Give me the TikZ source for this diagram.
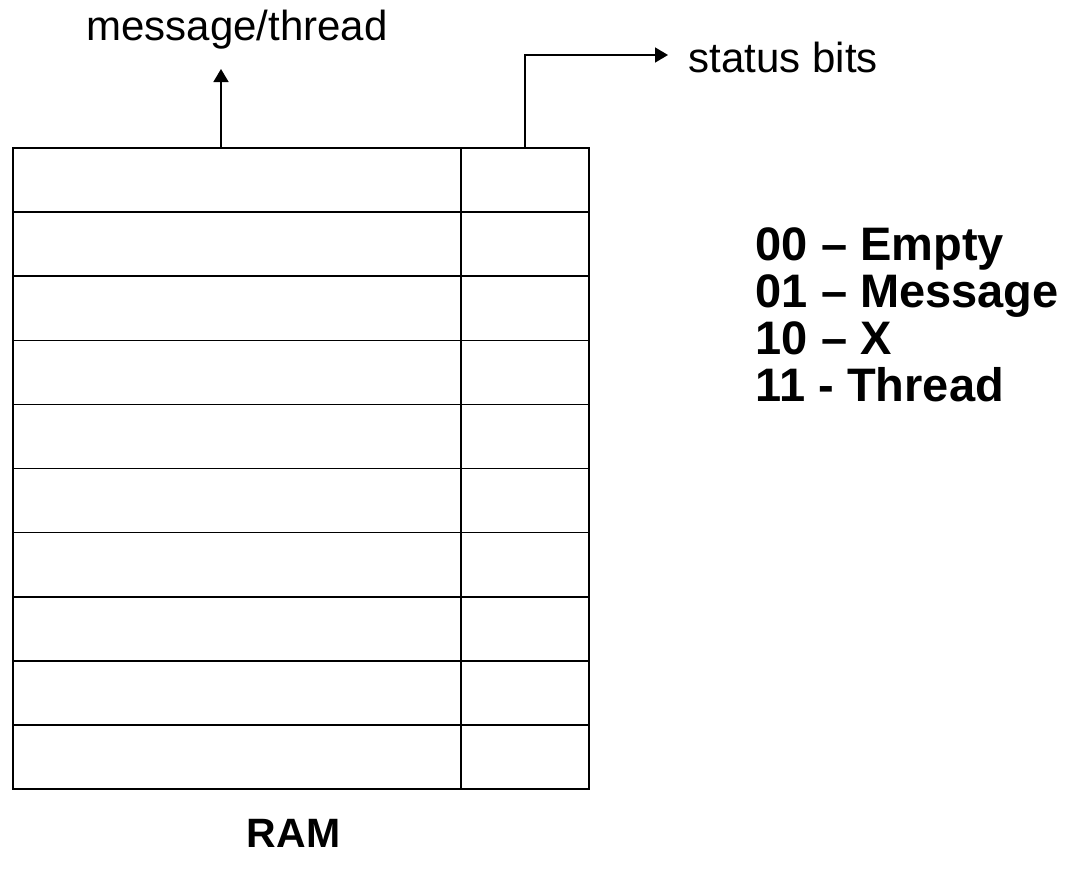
\documentclass[tikz,border=0pt]{standalone}
\usepackage{fontspec}
\setmainfont{Liberation Sans}
\usetikzlibrary{arrows.meta}
\begin{document}
\begin{tikzpicture}[x=1pt,y=-1pt,line width=1.6pt,
  datacell/.style={draw, rectangle, minimum width=448pt, minimum height=64.1pt, inner sep=0, outer sep=0},
  statcell/.style={draw, rectangle, minimum width=128pt, minimum height=64.1pt, inner sep=0, outer sep=0},
  lbl/.style={font=\fontsize{42}{50}\selectfont, inner sep=0},
  legend/.style={font=\fontsize{47}{56}\selectfont\bfseries, inner sep=0, anchor=base west},
  conn/.style={-{Triangle[length=13pt,width=15pt]}, line width=1.6pt}]
\useasboundingbox (0,0) rectangle (1068,873);
\foreach \i in {1,...,10}{
  \node[datacell] (r\i) at (237, {148+64.1*(\i-0.5)}) {};
  \node[statcell] (s\i) at (525, {148+64.1*(\i-0.5)}) {};
}
\node[lbl, anchor=base] (msg) at (237,40) {message/thread};
\node[lbl, anchor=base west] (stat) at (688,72) {status bits};
\coordinate (msgtip) at (221,69);
\coordinate (stattip) at (668,55);
\draw[conn] (r1.north -| msgtip) -- (msgtip);
\draw[conn] (s1.north) |- (stattip);
\node[legend] (l1) at (755,260) {00 – Empty};
\node[legend] (l2) at (755,307) {01 – Message};
\node[legend] (l3) at (755,354) {10 – X};
\node[legend] (l4) at (755,401) {11 - Thread};
\node[font=\fontsize{41}{49}\selectfont\bfseries, inner sep=0, anchor=base] (ram) at (293.5,847) {RAM};
\end{tikzpicture}
\end{document}
